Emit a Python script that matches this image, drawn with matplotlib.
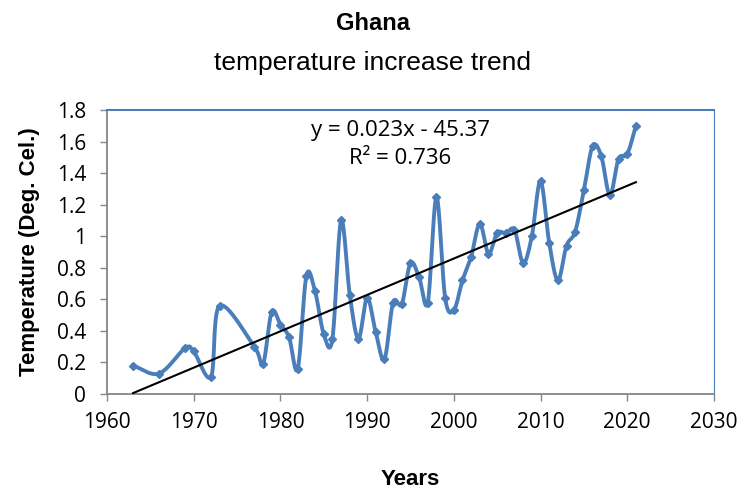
import numpy as np
import matplotlib
matplotlib.use("Agg")
from matplotlib import pyplot as plt

years = [1963, 1966, 1969, 1970, 1972, 1973, 1977, 1978, 1979, 1980,
         1981, 1982, 1983, 1984, 1985, 1986, 1987, 1988, 1989, 1990,
         1991, 1992, 1993, 1994, 1995, 1996, 1997, 1998, 1999, 2000,
         2001, 2002, 2003, 2004, 2005, 2006, 2007, 2008, 2009, 2010,
         2011, 2012, 2013, 2014, 2015, 2016, 2017, 2018, 2019, 2020, 2021]
temps = [0.18, 0.13, 0.29, 0.27, 0.11, 0.56, 0.30, 0.19, 0.52, 0.44,
         0.36, 0.16, 0.75, 0.65, 0.38, 0.35, 1.10, 0.63, 0.35, 0.61,
         0.39, 0.22, 0.58, 0.57, 0.83, 0.74, 0.58, 1.25, 0.61, 0.53,
         0.72, 0.87, 1.08, 0.89, 1.02, 1.02, 1.04, 0.83, 1.00, 1.35,
         0.96, 0.72, 0.94, 1.03, 1.29, 1.57, 1.51, 1.26, 1.49, 1.52, 1.70]
xticks = [1960, 1970, 1980, 1990, 2000, 2010, 2020, 2030]
yticks = [0, 0.2, 0.4, 0.6, 0.8, 1, 1.2, 1.4, 1.6, 1.8]
ytick_labels = ['0', '0.2', '0.4', '0.6', '0.8', '1', '1.2', '1.4', '1.6', '1.8']
eq_text = 'y = 0.023x - 45.37'
r2_text = 'R² = 0.736'

blue = '#4A7EBB'
narrow = ['Liberation Sans', 'DejaVu Sans']
plain = ['Open Sans', 'DejaVu Sans']


def smooth(x, y, n=20):
    # catmull-rom style curve like excel's smoothed line
    x = np.asarray(x, float)
    y = np.asarray(y, float)
    px = np.concatenate([[2 * x[0] - x[1]], x, [2 * x[-1] - x[-2]]])
    py = np.concatenate([[2 * y[0] - y[1]], y, [2 * y[-1] - y[-2]]])
    t = np.linspace(0, 1, n)
    xs, ys = [], []
    for i in range(1, len(px) - 2):
        for p, out in ((px, xs), (py, ys)):
            p0, p1, p2, p3 = p[i - 1], p[i], p[i + 1], p[i + 2]
            b1 = p1 + (p2 - p0) / 6
            b2 = p2 - (p3 - p1) / 6
            out.extend((1 - t) ** 3 * p1 + 3 * (1 - t) ** 2 * t * b1
                       + 3 * (1 - t) * t ** 2 * b2 + t ** 3 * p2)
    return np.array(xs), np.array(ys)


fig = plt.figure(figsize=(7.46, 4.96), dpi=100)
ax = fig.add_axes([0.1434, 0.2056, 0.8136, 0.5726])

sx, sy = smooth(years, temps)
ax.plot(sx, sy, color=blue, lw=2.8, zorder=3)
ax.plot(years, temps, ls='none', marker='D', ms=4.5, color=blue, zorder=4)

coef = np.polyfit(years, temps, 1)
tx = np.array([years[0], years[-1]])
ax.plot(tx, np.polyval(coef, tx), color='black', lw=1.5, zorder=5)

ax.text(1993.8, 1.67, eq_text, ha='center', va='center', fontsize=16, family=plain)
ax.text(1993.8, 1.49, r2_text, ha='center', va='center', fontsize=16, family=plain)

ax.set_xlim(1960, 2030)
ax.set_ylim(0, 1.8)
ax.set_xticks(xticks)
ax.set_yticks(yticks)
ax.set_yticklabels(ytick_labels)
for lab in ax.get_xticklabels() + ax.get_yticklabels():
    lab.set_family(plain)
    lab.set_fontsize(15)
ax.tick_params(direction='out', length=5, color='#868686', width=1)
ax.tick_params(axis='x', pad=8)
ax.tick_params(axis='y', pad=10)

for s in ['left', 'bottom']:
    ax.spines[s].set_color('#868686')
    ax.spines[s].set_linewidth(1.3)
ax.spines['right'].set_color(blue)
ax.spines['top'].set_color(blue)
ax.spines['top'].set_linestyle((0, (12, 1)))
ax.spines['top'].set_linewidth(1.5)

ax.set_xlabel('Years', fontsize=16, fontweight='bold', family=narrow, labelpad=26)
ax.set_ylabel('Temperature (Deg. Cel.)', fontsize=16, fontweight='bold', family=narrow, labelpad=12)

fig.text(0.5, 0.952, 'Ghana', ha='center', va='center', fontsize=17, fontweight='bold', family=narrow)
fig.text(0.5, 0.872, 'temperature increase trend', ha='center', va='center', fontsize=19, family=narrow)

fig.savefig('out.png', dpi=100)
